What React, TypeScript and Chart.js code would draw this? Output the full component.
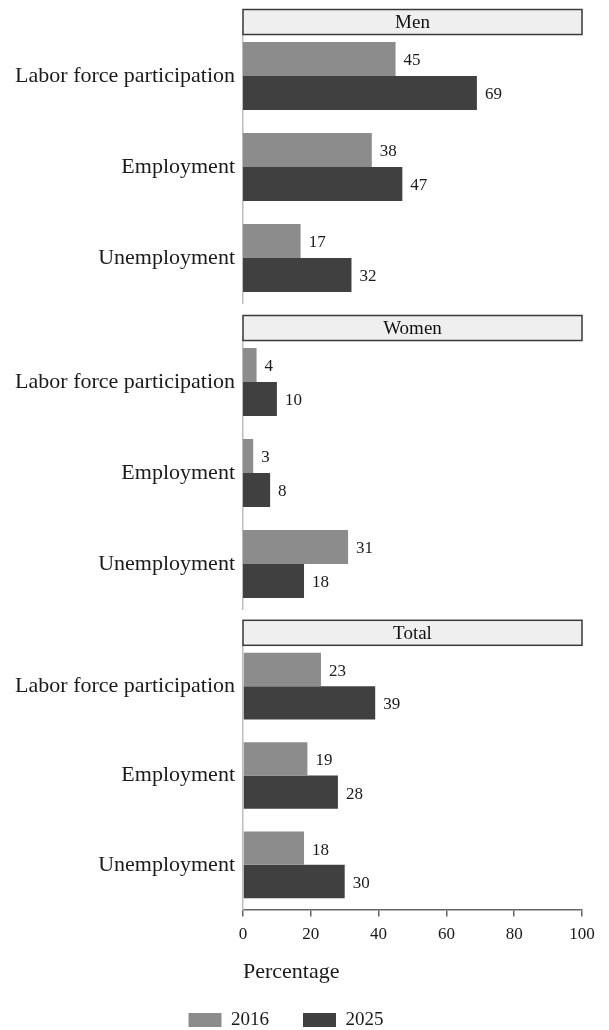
import React, { useEffect, useRef } from 'react';
import { Chart, registerables } from 'chart.js';

Chart.register(...registerables);

const categories = ['Labor force participation', 'Employment', 'Unemployment'];
const seriesNames = ['2016', '2025'];
const panelTitles = ['Men', 'Women', 'Total'];
const men2016 = [45, 38, 17];
const men2025 = [69, 47, 32];
const women2016 = [4, 3, 31];
const women2025 = [10, 8, 18];
const total2016 = [23, 19, 18];
const total2025 = [39, 28, 30];
const xTicks = [0, 20, 40, 60, 80, 100];
const xTitle = 'Percentage';

const FONT = "'Liberation Serif', 'Times New Roman', serif";
const COLORS = ['#8c8c8c', '#404040'];
const W = 609;
const H = 1030;

const stripPlugin = {
  id: 'strip',
  afterDraw(chart: any, _args: any, opts: any) {
    if (!opts || !opts.text) return;
    const { ctx, chartArea } = chart;
    const meta = chart.getDatasetMeta(0);
    const bar: any = meta.data[0];
    const barTop = bar.y - bar.height / 2;
    const bottom = barTop - 7.5;
    const top = bottom - 25;
    ctx.save();
    ctx.fillStyle = '#efefef';
    ctx.strokeStyle = '#3a3a3a';
    ctx.lineWidth = 1.5;
    ctx.fillRect(chartArea.left, top, chartArea.right - chartArea.left, bottom - top);
    ctx.strokeRect(chartArea.left, top, chartArea.right - chartArea.left, bottom - top);
    ctx.fillStyle = '#111';
    ctx.font = `19px ${FONT}`;
    ctx.textAlign = 'center';
    ctx.textBaseline = 'middle';
    ctx.fillText(opts.text, (chartArea.left + chartArea.right) / 2, (top + bottom) / 2 + 1);
    ctx.restore();
  },
};

const valueLabelPlugin = {
  id: 'valueLabels',
  afterDatasetsDraw(chart: any) {
    const { ctx } = chart;
    ctx.save();
    ctx.fillStyle = '#1a1a1a';
    ctx.font = `17px ${FONT}`;
    ctx.textAlign = 'left';
    ctx.textBaseline = 'middle';
    chart.data.datasets.forEach((ds: any, di: number) => {
      const meta = chart.getDatasetMeta(di);
      if (meta.hidden) return;
      meta.data.forEach((el: any, i: number) => {
        ctx.fillText(String(ds.data[i]), el.x + 8, el.y + 2);
      });
    });
    ctx.restore();
  },
};

type PanelProps = {
  title: string;
  d2016: number[];
  d2025: number[];
  areaTop: number;
  areaBottom: number | null;
  showAxis: boolean;
};

function Panel({ title, d2016, d2025, areaTop, areaBottom, showAxis }: PanelProps) {
  const ref = useRef<HTMLCanvasElement | null>(null);
  useEffect(() => {
    if (!ref.current) return;
    const chart = new Chart(ref.current, {
      type: 'bar',
      data: {
        labels: categories,
        datasets: [
          {
            label: seriesNames[0],
            data: d2016,
            backgroundColor: COLORS[0],
            borderWidth: 0,
            categoryPercentage: 0.747,
            barPercentage: 1.0,
          },
          {
            label: seriesNames[1],
            data: d2025,
            backgroundColor: COLORS[1],
            borderWidth: 0,
            categoryPercentage: 0.747,
            barPercentage: 1.0,
          },
        ],
      },
      options: {
        indexAxis: 'y',
        responsive: false,
        animation: false,
        layout: {
          padding: {
            top: areaTop,
            bottom: areaBottom === null ? 0 : H - areaBottom,
            left: -10,
            right: 27,
          },
        },
        scales: {
          x: {
            display: showAxis,
            min: 0,
            max: 100,
            afterBuildTicks: (scale: any) => {
              scale.ticks = xTicks.map((v) => ({ value: v }));
            },
            grid: {
              display: true,
              drawOnChartArea: false,
              drawTicks: true,
              tickLength: 7,
              color: '#666',
              lineWidth: 1.5,
            },
            border: { display: true, color: '#666', width: 1.5 },
            ticks: {
              font: { family: FONT, size: 17 },
              color: '#1a1a1a',
              padding: 8,
              maxRotation: 0,
            },
            title: {
              display: true,
              text: xTitle,
              align: 'start',
              font: { family: FONT, size: 22 },
              color: '#1a1a1a',
              padding: { top: 6, bottom: -8.8 },
            },
          },
          y: {
            afterFit: (scale: any) => {
              scale.width = 253;
            },
            grid: { display: false, drawTicks: false },
            border: { display: true, color: '#bdbdbd', width: 1.5 },
            ticks: {
              font: { family: FONT, size: 22 },
              color: '#1a1a1a',
              padding: 8,
            },
          },
        },
        plugins: {
          legend: {
            display: showAxis,
            position: 'bottom',
            align: 'center',
            maxHeight: 53.5,
            labels: {
              font: { family: FONT, size: 19 },
              color: '#1a1a1a',
              boxWidth: 33,
              boxHeight: 14,
              padding: 34,
            },
          },
          tooltip: { enabled: false },
          strip: { text: title },
        } as any,
      },
      plugins: [stripPlugin, valueLabelPlugin],
    } as any);
    return () => chart.destroy();
  }, [title, d2016, d2025, areaTop, areaBottom, showAxis]);
  return (
    <canvas
      ref={ref}
      width={W}
      height={H}
      style={{ position: 'absolute', left: 0, top: 0, width: W, height: H }}
    />
  );
}

export default function App() {
  return (
    <div style={{ position: 'absolute', left: 0, top: 0, width: W, height: H, background: '#fff', overflow: 'hidden' }}>
      <Panel title={panelTitles[0]} d2016={men2016} d2025={men2025} areaTop={30.5} areaBottom={303.5} showAxis={false} />
      <Panel title={panelTitles[1]} d2016={women2016} d2025={women2025} areaTop={336.5} areaBottom={609.5} showAxis={false} />
      <Panel title={panelTitles[2]} d2016={total2016} d2025={total2025} areaTop={641.5} areaBottom={null} showAxis={true} />
    </div>
  );
}
